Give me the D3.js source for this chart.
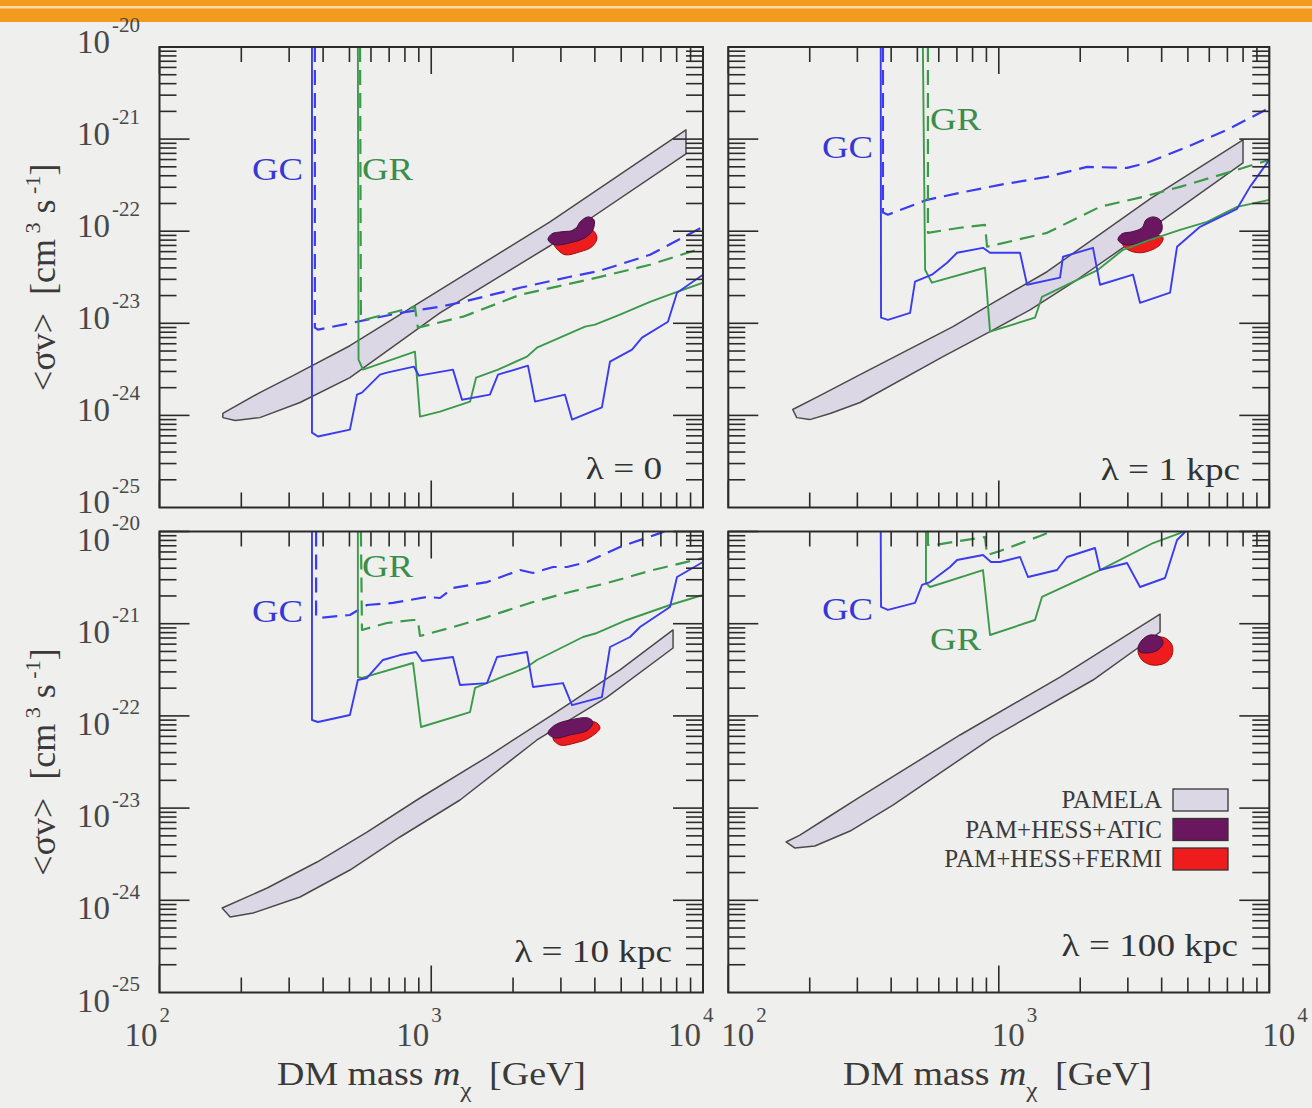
<!DOCTYPE html>
<html>
<head>
<meta charset="utf-8">
<script src="https://cdn.jsdelivr.net/npm/d3@7"></script>
<style>
  body { margin: 0; background: #efefed; }
  svg { display: block; }
  text { white-space: pre; }
</style>
</head>
<body>
<svg id="chart" width="1312" height="1108"></svg>
<script>
// ---- data: [mass in GeV, <sigma v> in cm^3 s^-1] ----
const massDomain = [1e2, 1e4];
const sigmaDomain = [1e-25, 1e-20];

// lambda = 0
const gcSolid0 = [[364,1e-20],[364,6.5e-25],[383,5.9e-25],[502,7.0e-25],[533,1.68e-24],[556,1.77e-24],[648,2.77e-24],[687,2.91e-24],[864,3.38e-24],[901,2.70e-24],[1202,3.14e-24],[1298,1.48e-24],[1644,1.68e-24],[1761,2.77e-24],[2269,3.47e-24],[2409,1.41e-24],[3105,1.68e-24],[3296,9.0e-25],[4246,1.22e-24],[4548,3.84e-24],[5480,5.17e-24],[5965,6.98e-24],[7430,1.04e-23],[8024,2.15e-23],[10000,3.37e-23]];
const grSolid0 = [[537,1e-20],[540,4.03e-24],[561,3.14e-24],[871,4.92e-24],[909,9.7e-25],[1077,1.10e-24],[1389,1.41e-24],[1462,2.57e-24],[1761,3.14e-24],[2250,4.35e-24],[2449,5.43e-24],[3681,9.19e-24],[4006,9.66e-24],[4949,1.24e-23],[6382,1.71e-23],[7890,2.15e-23],[10000,2.76e-23]];
const gcDash0 = [[373,1e-20],[373,8.96e-24],[383,8.53e-24],[515,1.016e-23],[767,1.30e-23],[1077,1.51e-23],[1309,1.71e-23],[2122,2.43e-23],[3240,3.2e-23],[4178,3.72e-23],[6382,5.55e-23],[10000,1.117e-22]];
const grDash0 = [[547,1e-20],[551,1.15e-23],[565,1.09e-23],[871,1.51e-23],[893,8.96e-24],[1309,1.18e-23],[2122,2.04e-23],[4074,3.13e-23],[6382,4.32e-23],[10000,6.6e-23]];
const pamUp0 = [[171,1.05e-24],[234,1.77e-24],[310,2.70e-24],[502,5.71e-24],[1077,2.31e-23],[2735,1.26e-22],[8656,1.26e-21]];
const pamLo0 = [[171,9.46e-25],[190,8.8e-25],[234,9.46e-25],[329,1.38e-24],[502,2.57e-24],[1077,1.30e-23],[2735,6.95e-23],[8656,6.91e-22]];
const atic0 = [[2689,8.07e-23],[2782,9.38e-23],[3027,9.86e-23],[3381,1.035e-22],[3527,1.26e-22],[3775,1.43e-22],[3970,1.33e-22],[3936,1.035e-22],[3681,8.48e-23],[3240,7.48e-23],[2854,7.12e-23]];
const fermi0 = [[2782,8.07e-23],[2878,6.6e-23],[3105,5.55e-23],[3527,5.98e-23],[3903,6.78e-23],[4074,8.48e-23],[3903,1.035e-22],[3527,9.86e-23],[3105,8.9e-23]];

// lambda = 1 kpc
const gcSolid1 = [[366,1e-20],[367,1.15e-23],[389,1.09e-23],[470,1.30e-23],[490,2.83e-23],[566,3.37e-23],[644,4.54e-23],[701,5.83e-23],[874,6.6e-23],[928,5.83e-23],[1198,5.83e-23],[1272,2.62e-23],[1684,3.13e-23],[1727,5.28e-23],[2230,6.6e-23],[2367,2.62e-23],[3135,3.37e-23],[3327,1.67e-23],[4297,2.15e-23],[4560,6.78e-23],[5546,1.117e-22],[7600,1.75e-22],[8484,3.03e-22],[10000,5.95e-22]];
const grSolid1 = [[524,1e-20],[534,3.81e-23],[566,2.76e-23],[889,4.01e-23],[928,8.11e-24],[1361,1.15e-23],[1444,1.94e-23],[2327,3.81e-23],[2879,6.28e-23],[3623,8.07e-23],[4677,1.035e-22],[5888,1.26e-22],[7600,1.84e-22],[10000,2.19e-22]];
const gcDash1 = [[373,1e-20],[373,1.6e-22],[389,1.51e-22],[543,2.19e-22],[719,2.61e-22],[1010,3.19e-22],[1508,3.89e-22],[2119,4.99e-22],[2979,4.87e-22],[3532,5.52e-22],[4965,8.23e-22],[6981,1.26e-21],[10000,2.18e-21]];
const grDash1 = [[547,1e-20],[547,9.6e-23],[719,1.09e-22],[889,1.17e-22],[905,6.78e-23],[1508,9.6e-23],[2367,1.84e-22],[3413,2.36e-22],[4677,3.03e-22],[6981,4.3e-22],[10000,5.95e-22]];
const pamUp1 = [[173,1.16e-24],[218,1.64e-24],[307,2.77e-24],[677,9.19e-24],[952,1.67e-23],[1508,3.63e-23],[3623,2.25e-22],[7996,9.8e-22]];
const pamLo1 = [[179,9.46e-25],[200,9.0e-25],[238,1.05e-24],[307,1.38e-24],[622,4.35e-24],[928,8.11e-24],[1305,1.40e-23],[1946,2.97e-23],[3946,1.26e-22],[7996,5.52e-22]];
const atic1 = [[2758,8.07e-23],[2854,9.38e-23],[3108,9.86e-23],[3384,1.09e-22],[3502,1.33e-22],[3717,1.43e-22],[3946,1.33e-22],[4013,1.035e-22],[3781,8.48e-23],[3327,7.48e-23],[2929,7.12e-23]];
const fermi1 = [[2854,7.48e-23],[3004,6.28e-23],[3327,5.83e-23],[3686,6.28e-23],[3946,7.12e-23],[4048,8.48e-23],[3781,9.14e-23],[3327,8.9e-23],[3004,8.48e-23]];

// lambda = 10 kpc
const gcSolid10 = [[364,1e-20],[364,9.03e-23],[383,8.59e-23],[502,1.023e-22],[537,2.45e-22],[580,2.58e-22],[664,4.04e-22],[767,4.57e-22],[879,4.93e-22],[925,3.94e-22],[1202,4.35e-22],[1276,2.16e-22],[1604,2.27e-22],[1746,4.35e-22],[2250,4.93e-22],[2368,2.06e-22],[3053,2.27e-22],[3296,1.31e-22],[4246,1.60e-22],[4548,5.59e-22],[5388,7.17e-22],[5865,9.2e-22],[7558,1.52e-21],[8024,3.21e-21],[10000,4.67e-21]];
const grSolid10 = [[537,1e-20],[537,2.64e-22],[556,2.58e-22],[857,3.75e-22],[917,7.58e-23],[1389,1.10e-22],[1449,2.01e-22],[2250,3.39e-22],[2449,4.04e-22],[3618,7.17e-22],[4074,7.93e-22],[5253,1.097e-21],[7558,1.595e-21],[10000,2.05e-21]];
const gcDash10 = [[377,1e-20],[377,1.18e-21],[383,1.153e-21],[502,1.243e-21],[580,1.595e-21],[723,1.68e-21],[835,1.81e-21],[965,1.95e-21],[1077,1.90e-21],[1202,2.44e-21],[1604,2.83e-21],[2122,3.82e-21],[2368,3.55e-21],[2805,4.12e-21],[3159,4.12e-21],[3742,4.67e-21],[4949,6.79e-21],[6949,9.6e-21],[8230,1.18e-20]];
const grDash10 = [[551,1e-20],[556,8.55e-22],[687,1.018e-21],[857,1.097e-21],[893,1.097e-21],[909,7.36e-22],[1202,9.2e-22],[1604,1.18e-21],[2309,1.68e-21],[3240,2.21e-21],[4436,2.76e-21],[6546,3.82e-21],[10000,5.16e-21]];
const pamUp10 = [[170,8.25e-25],[249,1.36e-24],[380,2.60e-24],[580,5.5e-24],[909,1.287e-23],[1604,3.58e-23],[2805,1.038e-22],[4949,3.15e-22],[7759,8.55e-22]];
const pamLo10 = [[182,6.59e-25],[221,7.28e-25],[329,1.086e-24],[502,2.13e-24],[767,4.86e-24],[1276,1.224e-23],[2449,5.48e-23],[4436,1.60e-22],[7759,5.45e-22]];
const atic10 = [[2689,6.52e-23],[2854,7.96e-23],[3240,9.03e-23],[3775,9.49e-23],[3936,8.59e-23],[3775,7.03e-23],[3240,6.21e-23],[2854,5.76e-23]];
const fermi10 = [[2805,5.76e-23],[2977,4.83e-23],[3381,5.08e-23],[3807,5.76e-23],[4178,7.39e-23],[4006,8.59e-23],[3527,7.77e-23],[3105,7.03e-23]];

// lambda = 100 kpc
const gcSolid100 = [[366,1e-20],[367,1.52e-21],[389,1.41e-21],[490,1.68e-21],[520,2.63e-21],[557,2.83e-21],[660,4.12e-21],[701,4.91e-21],[874,5.56e-21],[936,4.67e-21],[1010,4.67e-21],[1198,5.29e-21],[1282,3.21e-21],[1642,3.82e-21],[1787,5.29e-21],[2268,6.62e-21],[2367,3.82e-21],[2979,4.55e-21],[3327,2.50e-21],[4116,3.13e-21],[4560,8.09e-21],[4965,1.04e-20]];
const grSolid100 = [[538,1e-20],[538,2.76e-21],[557,2.50e-21],[874,3.82e-21],[928,7.54e-22],[1361,1.097e-21],[1444,1.95e-21],[2367,3.82e-21],[3717,7.5e-21],[4677,9.6e-21],[5092,1.09e-20]];
const grDash100 = [[547,1e-20],[547,7.14e-21],[580,7.14e-21],[889,8.72e-21],[905,5.56e-21],[1010,6.14e-21],[1420,8.94e-21],[1573,1.01e-20]];
const pamUp100 = [[163.5,4.29e-24],[184,5.1e-24],[237.6,8.21e-24],[307,1.32e-23],[719,6.21e-23],[1684,2.64e-22],[3946,1.27e-21]];
const pamLo100 = [[176.4,3.69e-24],[209,3.88e-24],[282,5.64e-24],[406,1.08e-23],[952,5.90e-23],[2230,2.45e-22],[3946,8.13e-22]];
const atic100 = [[3271,5.45e-22],[3384,6.65e-22],[3623,7.54e-22],[3946,7.17e-22],[4048,6.17e-22],[3879,5.19e-22],[3561,4.81e-22],[3327,4.93e-22]];
const fermi100 = [[3271,5.19e-22],[3384,4.04e-22],[3686,3.56e-22],[4116,3.75e-22],[4369,4.57e-22],[4369,5.87e-22],[4116,7.0e-22],[3781,7.17e-22],[3472,6.65e-22]];

const panelLabels = ["\u03bb = 0", "\u03bb = 1 kpc", "\u03bb = 10 kpc", "\u03bb = 100 kpc"];
const legendLabels = ["PAMELA", "PAM+HESS+ATIC", "PAM+HESS+FERMI"];

// ---- layout / style ----
const W = 1312, H = 1108;
const SERIF = "'Liberation Serif','Times New Roman',serif";
const BLUE = "#3b3bef", GREEN = "#3c9a4b";
const BLUE_TXT = "#3737d6", GREEN_TXT = "#3a8e49";
const BAND = "#dbd7e4", ATIC = "#6b175f", FERMI = "#ee1c1c";
const INK = "#2b2b2b", LABEL = "#484848";

const cols = [[159.5, 703], [728.3, 1269.3]];
const rows = [[47, 507.5], [531.5, 992.5]];
// the two rows place their y tick labels a little differently relative to the ticks
const yLabelShift = [5.5, 19];

const panels = [
  {col:0, row:0, gcS:gcSolid0, grS:grSolid0, gcD:gcDash0, grD:grDash0, up:pamUp0, lo:pamLo0, atic:atic0, fermi:fermi0,
   lab:panelLabels[0], labXY:[662,479], gc:[252,180], gr:[362,180]},
  {col:1, row:0, gcS:gcSolid1, grS:grSolid1, gcD:gcDash1, grD:grDash1, up:pamUp1, lo:pamLo1, atic:atic1, fermi:fermi1,
   lab:panelLabels[1], labXY:[1240,480], gc:[822,158], gr:[930,130]},
  {col:0, row:1, gcS:gcSolid10, grS:grSolid10, gcD:gcDash10, grD:grDash10, up:pamUp10, lo:pamLo10, atic:atic10, fermi:fermi10,
   lab:panelLabels[2], labXY:[672,962], gc:[252,622], gr:[362,577]},
  {col:1, row:1, gcS:gcSolid100, grS:grSolid100, gcD:null, grD:grDash100, up:pamUp100, lo:pamLo100, atic:atic100, fermi:fermi100,
   lab:panelLabels[3], labXY:[1238,956], gc:[822,620], gr:[930,650]}
];

const svg = d3.select("#chart");
svg.append("rect").attr("width", W).attr("height", H).attr("fill", "#efefed");

// slide header bar
svg.append("rect").attr("width", W).attr("height", 22).attr("fill", "#f29b1e");
svg.append("rect").attr("y", 6).attr("width", W).attr("height", 2.5).attr("fill", "#f9d9a2");

const defs = svg.append("defs");
const isDecade = v => Math.abs(Math.log10(v) - Math.round(Math.log10(v))) < 1e-6;
// powers of ten spanning the y domain (log ticks can drop the lower end to rounding)
const sigmaDecades = d3.range(Math.round(Math.log10(sigmaDomain[0])), Math.round(Math.log10(sigmaDomain[1])) + 1);

function stretched(parent, x, y, sx, size) {
  return parent.append("text")
    .attr("transform", `translate(${x},${y}) scale(${sx},1)`)
    .attr("font-family", SERIF).attr("font-size", size);
}

panels.forEach((p, i) => {
  const [x0, x1] = cols[p.col], [y0, y1] = rows[p.row];
  const x = d3.scaleLog().domain(massDomain).range([x0, x1]);
  const y = d3.scaleLog().domain(sigmaDomain).range([y1, y0]);
  const g = svg.append("g");

  defs.append("clipPath").attr("id", "clip" + i)
    .append("rect").attr("x", x0).attr("y", y0).attr("width", x1 - x0).attr("height", y1 - y0);
  const plot = g.append("g").attr("clip-path", `url(#clip${i})`);

  const line = d3.line().x(d => x(d[0])).y(d => y(d[1]));
  const blob = d3.line().x(d => x(d[0])).y(d => y(d[1])).curve(d3.curveCatmullRomClosed.alpha(0.5));

  // PAMELA band
  plot.append("path")
    .attr("d", line(p.up.concat(p.lo.slice().reverse())) + "Z")
    .attr("fill", BAND).attr("stroke", "#4a4a4a").attr("stroke-width", 1.5)
    .attr("stroke-linejoin", "round");

  // combined fit regions
  plot.append("path").attr("d", blob(p.fermi))
    .attr("fill", FERMI).attr("stroke", "#9a1010").attr("stroke-width", 1);
  plot.append("path").attr("d", blob(p.atic))
    .attr("fill", ATIC).attr("stroke", "#4a0f42").attr("stroke-width", 1);

  // gamma-ray bounds
  const curves = [[p.gcD, BLUE, true], [p.grD, GREEN, true], [p.grS, GREEN, false], [p.gcS, BLUE, false]];
  curves.forEach(([data, color, dashed]) => {
    if (!data) return;
    plot.append("path").attr("d", line(data))
      .attr("fill", "none").attr("stroke", color)
      .attr("stroke-width", dashed ? 2.2 : 1.9)
      .attr("stroke-dasharray", dashed ? "15,8" : null)
      .attr("stroke-linejoin", "round");
  });

  // frame
  g.append("rect").attr("x", x0).attr("y", y0).attr("width", x1 - x0).attr("height", y1 - y0)
    .attr("fill", "none").attr("stroke", INK).attr("stroke-width", 2);

  // ticks, all inward
  const tk = g.append("g").attr("stroke", INK).attr("stroke-width", 1.6);
  y.ticks().forEach(t => {
    const len = isDecade(t) ? 30 : 17, py = y(t);
    tk.append("line").attr("x1", x0).attr("x2", x0 + len).attr("y1", py).attr("y2", py);
    tk.append("line").attr("x1", x1).attr("x2", x1 - len).attr("y1", py).attr("y2", py);
  });
  x.ticks().forEach(t => {
    const len = isDecade(t) ? 27 : 15, px = x(t);
    tk.append("line").attr("x1", px).attr("x2", px).attr("y1", y1).attr("y2", y1 - len);
    tk.append("line").attr("x1", px).attr("x2", px).attr("y1", y0).attr("y2", y0 + len);
  });

  // y tick labels on the left column
  if (p.col === 0) {
    sigmaDecades.forEach(e => {
      const py = y(Math.pow(10, e));
      const tx = g.append("text").attr("x", 77).attr("y", py + yLabelShift[p.row])
        .attr("font-family", SERIF).attr("font-size", 33).attr("fill", LABEL);
      tx.append("tspan").text("10");
      tx.append("tspan").attr("dx", 2).attr("dy", -20.5).attr("font-size", 21).text(String(e));
    });
  }
  // x tick labels on the bottom row
  if (p.row === 1) {
    x.ticks().filter(isDecade).forEach(t => {
      const e = Math.round(Math.log10(t)), px = x(t);
      const sx = p.col === 0 ? px - 35 : px - 7;
      const tx = g.append("text").attr("x", sx).attr("y", 1046)
        .attr("font-family", SERIF).attr("font-size", 33).attr("fill", LABEL);
      tx.append("tspan").text("10");
      tx.append("tspan").attr("dx", 2).attr("dy", -24).attr("font-size", 21).text(String(e));
    });
    const ti = stretched(g, p.col === 0 ? 277 : 843, 1085, 1.15, 33).attr("fill", "#3a3a3a");
    ti.append("tspan").text("DM mass ");
    ti.append("tspan").attr("font-style", "italic").text("m");
    ti.append("tspan").attr("font-size", 22).attr("dy", 12).text("\u03c7");
    ti.append("tspan").attr("dy", -12).attr("dx", 7).text(" [GeV]");
  }
  // y title on the left column
  if (p.col === 0) {
    const cy = (y0 + y1) / 2;
    const ty = g.append("text")
      .attr("transform", `translate(55,${cy}) rotate(-90)`)
      .attr("text-anchor", "middle").attr("font-family", SERIF).attr("font-size", 36).attr("fill", "#3a3a3a");
    ty.append("tspan").text("<\u03c3v>  [cm");
    ty.append("tspan").attr("font-size", 22).attr("dy", -15).text(" 3");
    ty.append("tspan").attr("dy", 15).text(" s");
    ty.append("tspan").attr("font-size", 22).attr("dy", -15).text(" -1");
    ty.append("tspan").attr("dy", 15).text("]");
  }

  // curve names and panel label
  stretched(g, p.gc[0], p.gc[1], 1.15, 32).attr("fill", BLUE_TXT).text("GC");
  stretched(g, p.gr[0], p.gr[1], 1.15, 32).attr("fill", GREEN_TXT).text("GR");
  stretched(g, p.labXY[0], p.labXY[1], 1.2, 31).attr("text-anchor", "end").attr("fill", "#333").text(p.lab);
});

// legend in the lambda = 100 kpc panel
const legendFills = [BAND, ATIC, FERMI];
const lg = svg.append("g");
legendLabels.forEach((lab, i) => {
  const cy = 800 + i * 29.5;
  lg.append("rect").attr("x", 1173).attr("y", cy - 11).attr("width", 55).attr("height", 22)
    .attr("fill", legendFills[i]).attr("stroke", "#333").attr("stroke-width", 1.3);
  lg.append("text").attr("x", 1162).attr("y", cy + 8).attr("text-anchor", "end")
    .attr("font-family", SERIF).attr("font-size", 25).attr("fill", "#3a3a3a").text(lab);
});
</script>
</body>
</html>
